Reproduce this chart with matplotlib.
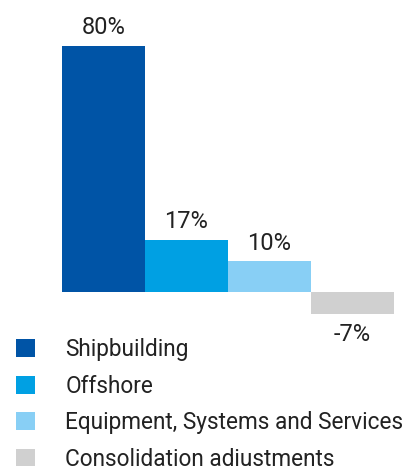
import matplotlib
matplotlib.use("Agg")
import matplotlib.pyplot as plt
from matplotlib.patches import Patch

segments = ["Shipbuilding", "Offshore", "Equipment, Systems and Services",
            "Consolidation adjustments"]
shares = [80, 17, 10, -7]
colors = ["#0054a6", "#00a0e3", "#88cff5", "#d0d0d0"]

plt.rcParams['font.family'] = ['Roboto', 'DejaVu Sans']
text_color = "#222222"

W, H = 408, 466
fig = plt.figure(figsize=(W / 100, H / 100), dpi=100)

# axes placed in pixels: bars span x 62..394, baseline at y 292
top_px, bot_px = 10, 330
ax = fig.add_axes([62 / W, 1 - bot_px / H, (394 - 62) / W, (bot_px - top_px) / H])
scale = (292 - 46) / 80.0
ax.set_ylim(-(bot_px - 292) / scale, (292 - top_px) / scale)
ax.set_xlim(-0.5, len(shares) - 0.5)

x = range(len(shares))
bars = ax.bar(x, shares, width=1.0, color=colors, linewidth=0)
for b, v in zip(bars, shares):
    cx = b.get_x() + b.get_width() / 2
    off = 13 if v >= 0 else -15
    ax.annotate(f"{v}%", (cx, v), xytext=(0, off), textcoords="offset points",
                ha="center", va="center", color=text_color,
                fontsize=17, fontweight="normal")
ax.axis("off")

handles = [Patch(facecolor=c, edgecolor="none") for c in colors]
fig.legend(handles, segments, loc="upper left",
           bbox_to_anchor=(16 / W, 1 - 338 / H), frameon=False,
           handlelength=0.84, handleheight=0.84,
           handletextpad=1.33, labelspacing=0.6, borderpad=0,
           borderaxespad=0, labelcolor=text_color,
           prop={"weight": "normal", "size": 16.3})

fig.savefig("out.png", dpi=100)
